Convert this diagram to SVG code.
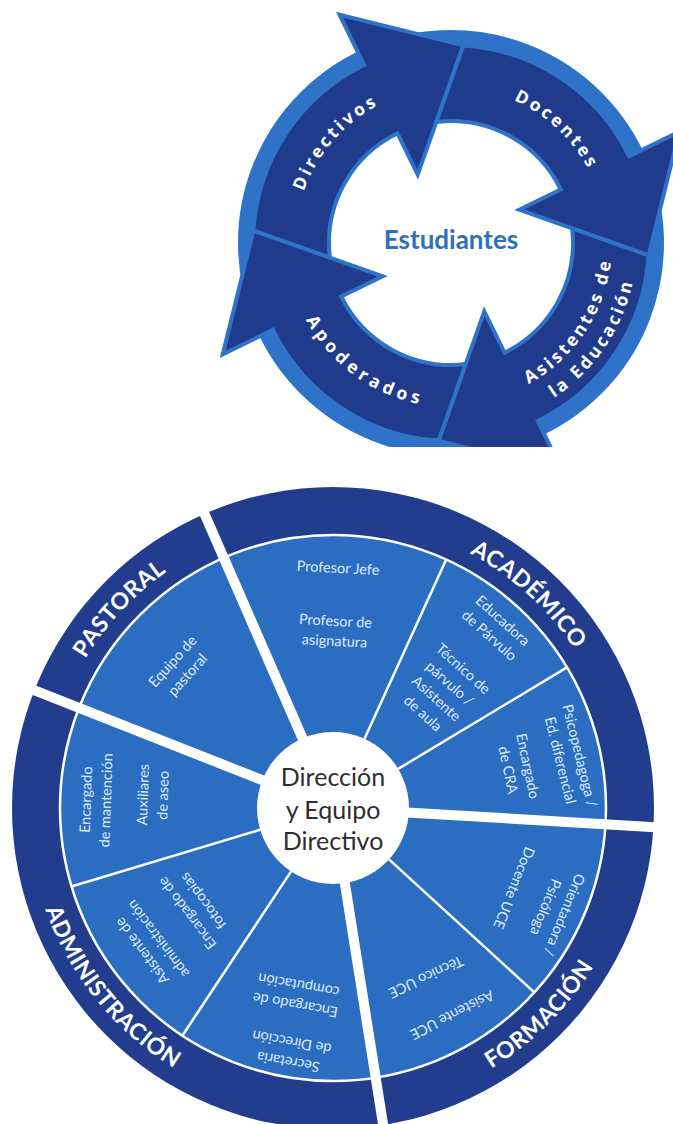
<svg xmlns="http://www.w3.org/2000/svg" xmlns:xlink="http://www.w3.org/1999/xlink" width="673" height="1124" viewBox="0 0 673 1124">
<defs>
<style>
.arrow{fill:#213b8c;stroke:#2f73c9;stroke-width:4;stroke-linejoin:miter}
.al{font-family:"Open Sans","DejaVu Sans",sans-serif;font-weight:700;font-size:17.5px;fill:#ffffff;letter-spacing:3px}
.rl{font-family:Lato,"Liberation Sans",sans-serif;font-weight:700;font-size:23px;fill:#ffffff;letter-spacing:0.5px}
.t{font-family:Lato,"Liberation Sans",sans-serif;font-size:14.5px;fill:#dde8f7;text-anchor:middle}
.thin{stroke:#ffffff;stroke-width:2.5;fill:none}
.bar{stroke:#ffffff;stroke-width:10;fill:none}
</style>
<clipPath id="topclip"><rect x="0" y="0" width="673" height="447"/></clipPath>
<path id="arrowShape" d="M-121.1,14.6 L-197.6,-12.4 A198,198 0 0 1 -86.8,-178 L-111.4,-228.3 L12.4,-197.6 L-33.3,-68.3 L-53.5,-109.7 A122,122 0 0 0 -121.1,14.6 Z"/>
<path id="pDir" d="M-155.6,10.9 A156,156 0 0 1 -10.9,-155.6"/>
<path id="pDoc" d="M-5.4,-155.9 A156,156 0 0 1 155.9,-5.4"/>
<path id="pAs1" d="M32.1,157.8 A161,161 0 0 0 157.8,-32.1"/>
<path id="pAs2" d="M35.5,182.6 A186,186 0 0 0 182.6,-35.5"/>
<path id="pApo" d="M-162,25.7 A164,164 0 0 0 25.7,162"/>
<path id="pPas" d="M46.8,767.8 A289,289 0 0 1 272.9,525.3"/>
<path id="pAca" d="M345.6,519.3 A289,289 0 0 1 619.5,770.3"/>
<path id="pFor" d="M359.6,1111.8 A305,305 0 0 0 636.8,834.6"/>
<path id="pAdm" d="M33.6,749.8 A305,305 0 0 0 327.7,1112.9"/>
</defs>
<rect width="673" height="1124" fill="#ffffff"/>

<g id="cycle" clip-path="url(#topclip)">
<g transform="translate(451,243)">
<circle cx="0" cy="0" r="205.5" fill="none" stroke="#2f73c9" stroke-width="15"/>
<g id="arrow-directivos"><use xlink:href="#arrowShape" class="arrow"/>
<text class="al"><textPath xlink:href="#pDir" startOffset="50%" text-anchor="middle">Directivos</textPath></text></g>
<g id="arrow-docentes"><use xlink:href="#arrowShape" class="arrow" transform="rotate(90)"/>
<text class="al"><textPath xlink:href="#pDoc" startOffset="50%" text-anchor="middle">Docentes</textPath></text></g>
<g id="arrow-asistentes"><use xlink:href="#arrowShape" class="arrow" transform="rotate(180)"/>
<text class="al"><textPath xlink:href="#pAs1" startOffset="50%" text-anchor="middle">Asistentes de</textPath></text>
<text class="al"><textPath xlink:href="#pAs2" startOffset="50%" text-anchor="middle">la Educación</textPath></text></g>
<g id="arrow-apoderados"><use xlink:href="#arrowShape" class="arrow" transform="rotate(270)"/>
<text class="al" style="letter-spacing:4.5px"><textPath xlink:href="#pApo" startOffset="50%" text-anchor="middle">Apoderados</textPath></text></g>
<g id="estudiantes"><text x="0" y="6" text-anchor="middle" font-family="Lato, 'Liberation Sans', sans-serif" font-weight="700" font-size="26" fill="#2f6fbe">Estudiantes</text></g>
</g>
</g>

<g id="wheel">
<circle cx="333" cy="808" r="321" fill="#223d8d"/>
<circle cx="333" cy="808" r="273" fill="#2b6ec1" stroke="#ffffff" stroke-width="2.5"/>
<g id="connectors">
<line class="thin" x1="364.5" y1="738.8" x2="446.2" y2="559.6"/>
<line class="thin" x1="398.1" y1="768.9" x2="567" y2="667.4"/>
<line class="thin" x1="389" y1="859.3" x2="534.3" y2="992.4"/>
<line class="thin" x1="291.1" y1="871.4" x2="182.3" y2="1035.7"/>
<line class="thin" x1="260.2" y1="829.8" x2="71.5" y2="886.5"/>
<line class="bar" x1="305" y1="743.9" x2="198.9" y2="501"/>
<line class="bar" x1="267.9" y1="782.3" x2="21.3" y2="685.2"/>
<line class="bar" x1="402.9" y1="812.2" x2="667.4" y2="827.9"/>
<line class="bar" x1="343.9" y1="877.1" x2="385.4" y2="1138.9"/>
</g>
</g>

<g id="label-pastoral"><text class="rl"><textPath xlink:href="#pPas" startOffset="50%" text-anchor="middle">PASTORAL</textPath></text></g>
<g id="label-academico"><text class="rl"><textPath xlink:href="#pAca" startOffset="50%" text-anchor="middle">ACADÉMICO</textPath></text></g>
<g id="label-formacion"><text class="rl"><textPath xlink:href="#pFor" startOffset="50%" text-anchor="middle">FORMACIÓN</textPath></text></g>
<g id="label-administracion"><text class="rl"><textPath xlink:href="#pAdm" startOffset="50%" text-anchor="middle">ADMINISTRACIÓN</textPath></text></g>

<g id="s-pastoral"><text class="t" transform="translate(180,668) rotate(-48)"><tspan x="0" y="-5">Equipo de</tspan><tspan x="0" y="15">pastoral</tspan></text></g>
<g id="s-profjefe"><text class="t" transform="translate(338,568) rotate(3)"><tspan x="0" y="5">Profesor Jefe</tspan></text></g>
<g id="s-profasig"><text class="t" transform="translate(335,631) rotate(3)"><tspan x="0" y="-5">Profesor de</tspan><tspan x="0" y="15">asignatura</tspan></text></g>
<g id="s-educadora"><text class="t" transform="translate(496,628) rotate(42)"><tspan x="0" y="-5">Educadora</tspan><tspan x="0" y="15">de Párvulo</tspan></text></g>
<g id="s-tecnico"><text class="t" transform="translate(443,691) rotate(42)"><tspan x="0" y="-25">Técnico de</tspan><tspan x="0" y="-5">párvulo /</tspan><tspan x="0" y="15">Asistente</tspan><tspan x="0" y="35">de aula</tspan></text></g>
<g id="s-psico"><text class="t" transform="translate(570,758) rotate(76)"><tspan x="0" y="-5">Psicopedagoga /</tspan><tspan x="0" y="15">Ed. diferencial</tspan></text></g>
<g id="s-cra"><text class="t" transform="translate(518,768) rotate(78)"><tspan x="0" y="-5">Encargado</tspan><tspan x="0" y="15">de CRA</tspan></text></g>
<g id="s-orientadora"><text class="t" transform="translate(555,911) rotate(112)"><tspan x="0" y="-5">Orientadora /</tspan><tspan x="0" y="15">Psicóloga</tspan></text></g>
<g id="s-docenteuce"><text class="t" transform="translate(514,888) rotate(112)"><tspan x="0" y="5">Docente UCE</tspan></text></g>
<g id="s-tecnicouce"><text class="t" transform="translate(426,977) rotate(155)"><tspan x="0" y="5">Técnico UCE</tspan></text></g>
<g id="s-asistenteuce"><text class="t" transform="translate(452,1015) rotate(153)"><tspan x="0" y="5">Asistente UCE</tspan></text></g>
<g id="s-secretaria"><text class="t" transform="translate(290,1052) rotate(190)"><tspan x="0" y="-5">Secretaria</tspan><tspan x="0" y="15">de Dirección</tspan></text></g>
<g id="s-computacion"><text class="t" transform="translate(297,995) rotate(190)"><tspan x="0" y="-5">Encargado de</tspan><tspan x="0" y="15">computación</tspan></text></g>
<g id="s-asistadm"><text class="t" transform="translate(150,945) rotate(233)"><tspan x="0" y="-5">Asistente de</tspan><tspan x="0" y="15">administración</tspan></text></g>
<g id="s-fotocopias"><text class="t" transform="translate(195,907) rotate(233)"><tspan x="0" y="-5">Encargado de</tspan><tspan x="0" y="15">fotocopias</tspan></text></g>
<g id="s-mantencion"><text class="t" transform="translate(96,800) rotate(-88)"><tspan x="0" y="-5">Encargado</tspan><tspan x="0" y="15">de mantención</tspan></text></g>
<g id="s-aseo"><text class="t" transform="translate(153,795) rotate(-88)"><tspan x="0" y="-5">Auxiliares</tspan><tspan x="0" y="15">de aseo</tspan></text></g>

<g id="center">
<circle cx="333" cy="808" r="76" fill="#ffffff"/>
<text x="333" text-anchor="middle" font-family="Lato, 'Liberation Sans', sans-serif" font-size="25" fill="#2e2e2e"><tspan x="333" y="786">Dirección</tspan><tspan x="333" y="819">y Equipo</tspan><tspan x="333" y="850">Directivo</tspan></text>
</g>
</svg>
